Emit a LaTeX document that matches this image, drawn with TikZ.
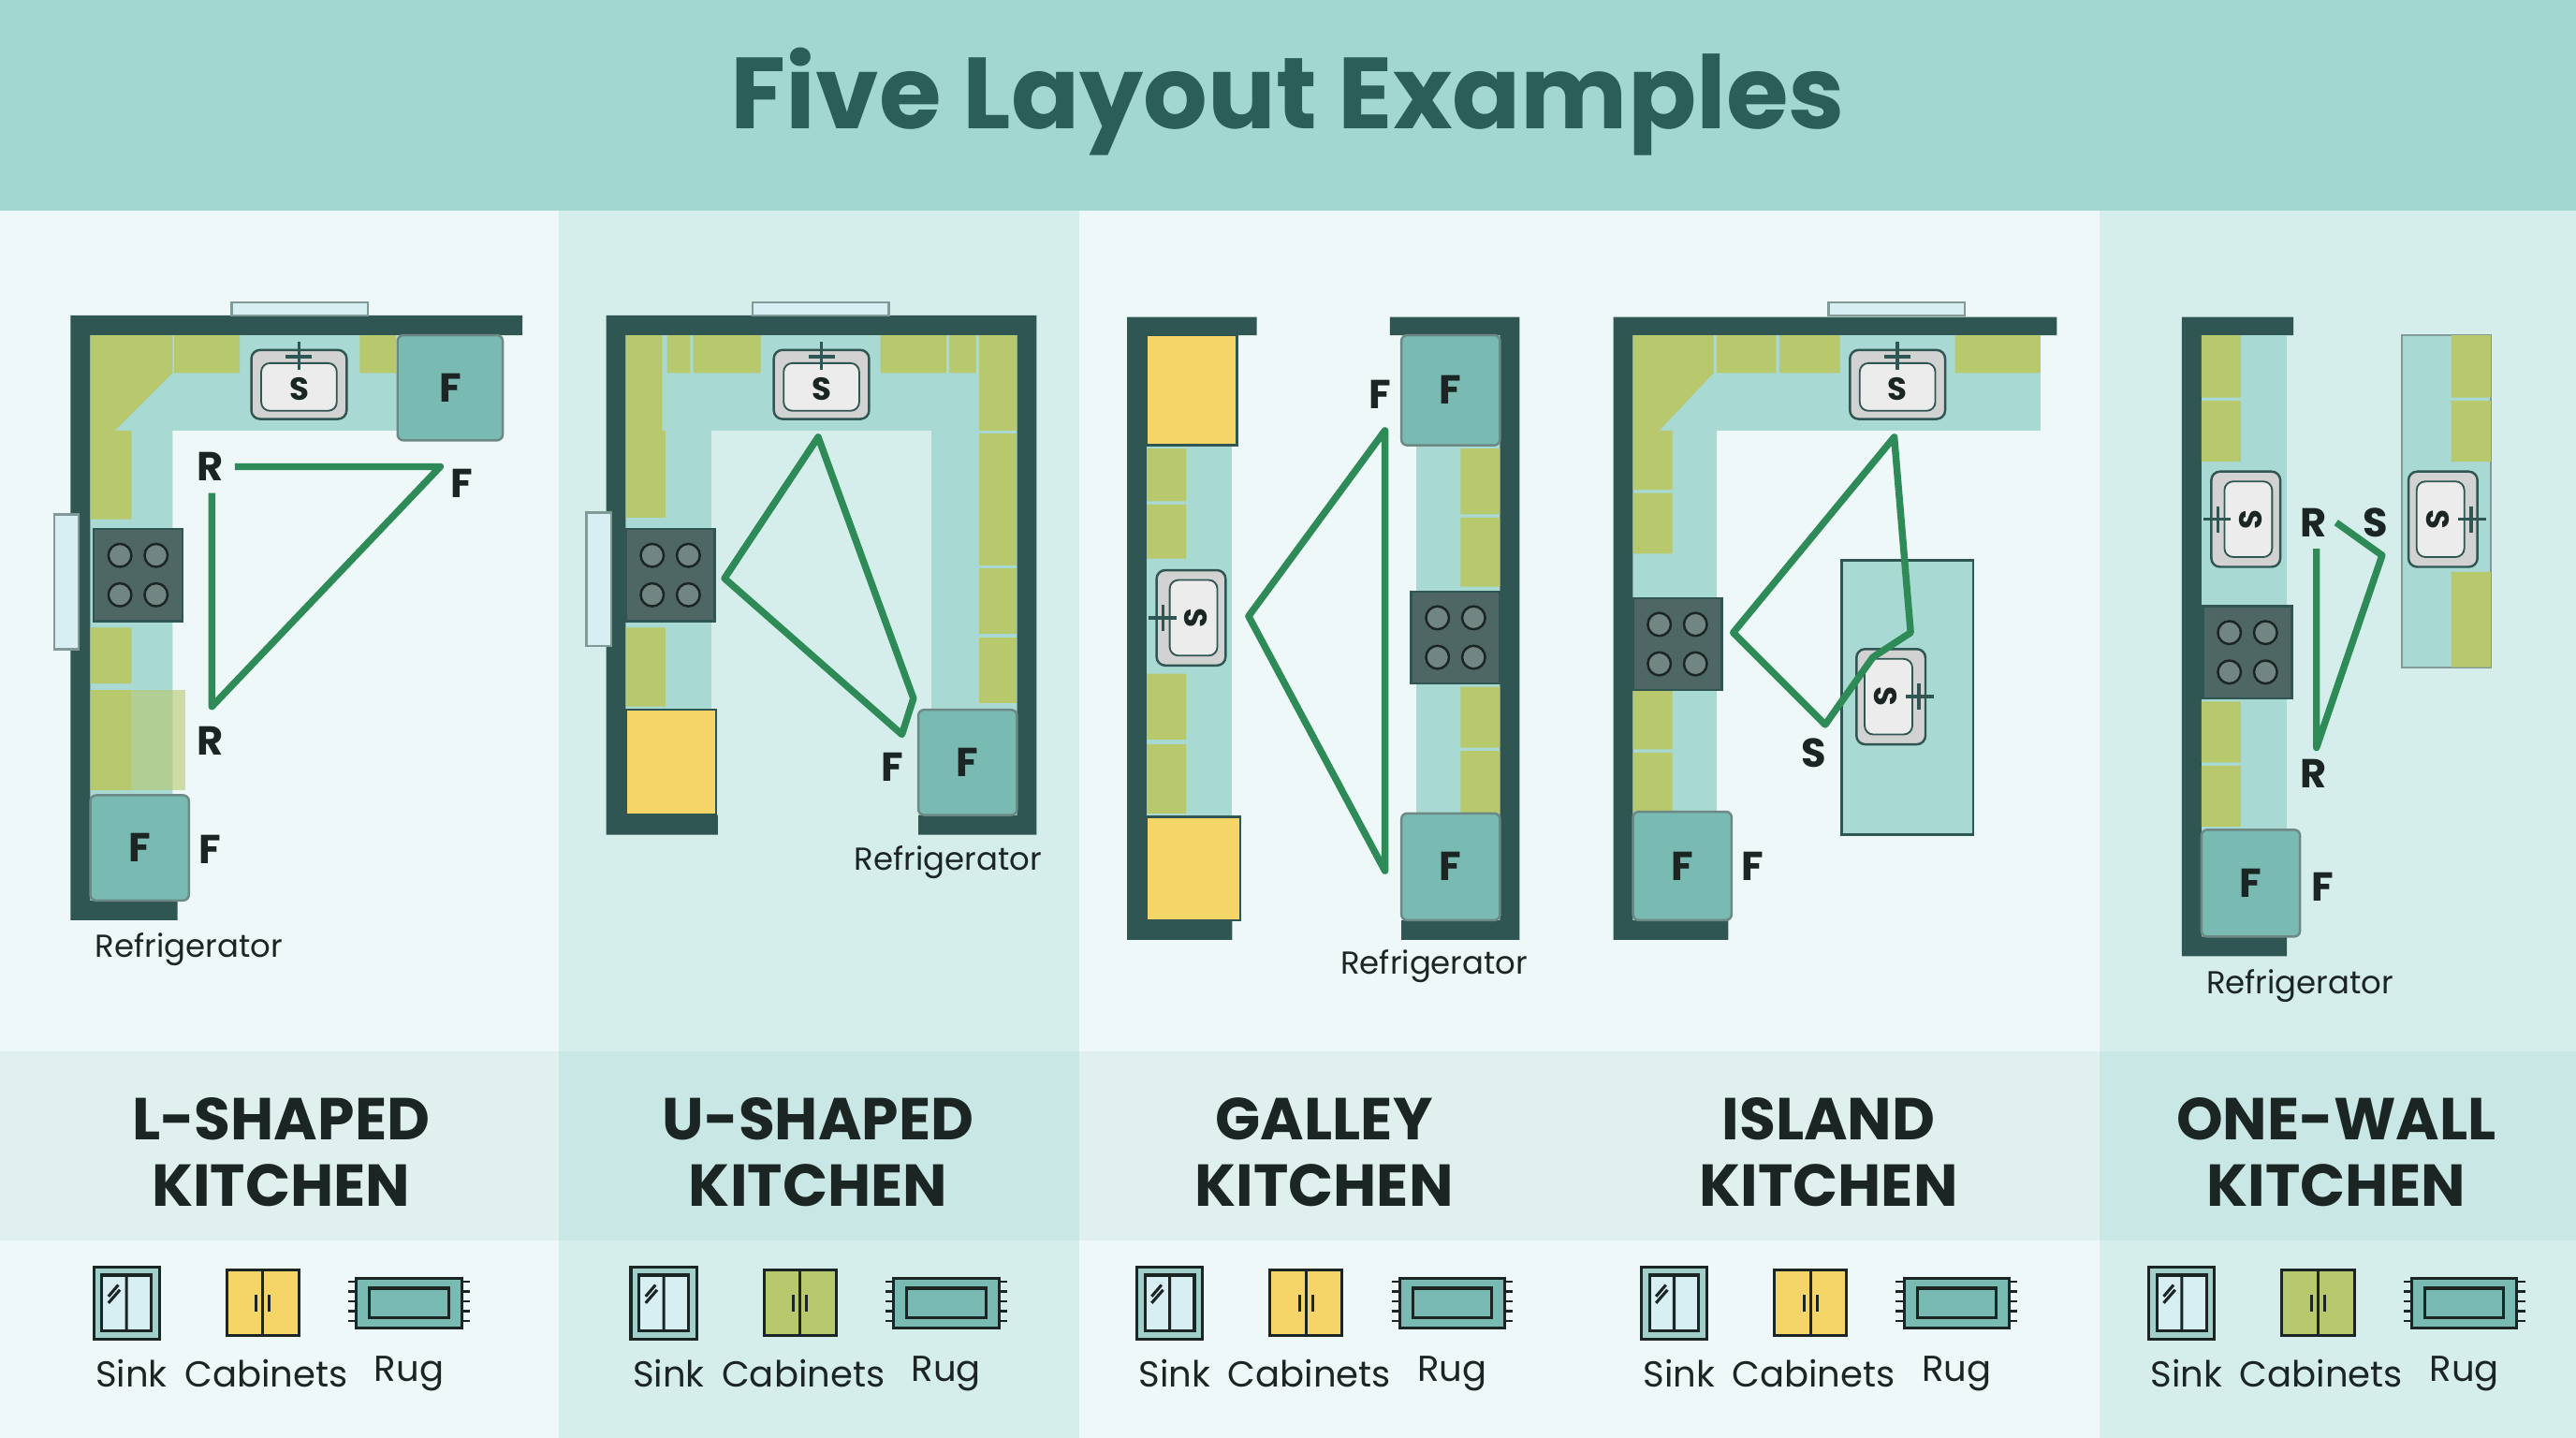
\documentclass[tikz,border=0pt]{standalone}
\usepackage{fontspec}
\setmainfont{Poppins}
\definecolor{wallc}{HTML}{2F5652}
\definecolor{ctr}{HTML}{A8D9D3}
\definecolor{cabg}{HTML}{B8C86C}
\definecolor{caby}{HTML}{F5D468}
\definecolor{fridgec}{HTML}{79BAB2}
\definecolor{stovec}{HTML}{4E6664}
\definecolor{trig}{HTML}{2E8B57}
\definecolor{head}{HTML}{A2D6D0}
\definecolor{titlec}{HTML}{2B5E59}
\definecolor{bgl}{HTML}{EEF8F8}
\definecolor{bgd}{HTML}{D5EEEB}
\definecolor{inkc}{HTML}{1B2624}
\definecolor{winc}{HTML}{D7EEF2}
\tikzset{
  wall/.style={fill=wallc},
  counter/.style={fill=ctr},
  cab/.style={fill=cabg},
  ycab/.style={fill=caby,draw=wallc,line width=0.8pt},
  fridge/.style={fill=fridgec,draw=wallc!70,line width=0.8pt,rounded corners=2pt},
  win/.style={fill=winc,draw=wallc!60,line width=0.8pt},
  tri/.style={draw=trig,line width=2.4pt,line join=round},
  lbl/.style={font=\bfseries\fontsize{14}{14}\selectfont,text=inkc},
  small/.style={font=\fontsize{11}{11}\selectfont,text=inkc},
  legend/.style={font=\fontsize{12.5}{12.5}\selectfont,text=inkc},
  heading/.style={font=\bfseries\fontsize{20.5}{23}\selectfont,text=inkc,align=center},
  sink/.pic={
    \draw[fill=gray!35,draw=wallc,line width=0.8pt,rounded corners=3pt] (-29,-21) rectangle (29,21);
    \draw[fill=gray!15,draw=wallc,line width=0.6pt,rounded corners=3pt] (-23,-13) rectangle (23,16);
    \draw[line width=1.2pt,draw=wallc] (0,-26) -- (0,-9) (-8,-17) -- (8,-17);
    \node[transform shape,font=\bfseries\fontsize{11}{11}\selectfont,text=inkc] at (0,3) {S};
  },
  stove/.pic={
    \draw[fill=stovec,draw=wallc,line width=0.8pt] (-27,-28) rectangle (27,28);
    \foreach \sx in {-11,11} \foreach \sy in {-12,12}
      \draw[fill=stovec!80,draw=inkc,line width=0.8pt] (\sx,\sy) circle (7);
  }
}
\begin{document}
\begin{tikzpicture}[x=0.02cm,y=-0.02cm]
% backgrounds
\fill[bgl] (0,0) rectangle (1568,875);
\fill[bgd] (340,128) rectangle (657,875);
\fill[bgd] (1278,128) rectangle (1568,875);
\fill[fridgec,opacity=0.12] (0,640) rectangle (1568,755);
\fill[head] (0,0) rectangle (1568,128);
\node[font=\bfseries\fontsize{35}{35}\selectfont,text=titlec] (title) at (784,62) {Five Layout Examples};
% ---------------- L-shaped
\fill[wall] (43,192) rectangle (318,204) (43,192) rectangle (55,560) (43,548) rectangle (108,560);
\fill[counter] (55,204) rectangle (242,262) (55,204) rectangle (105,548);
\fill[cab] (55,204) -- (105,204) -- (105,227) -- (70,262) -- (55,262) -- cycle;
\fill[cab] (106,204) rectangle (146,227) (219,204) rectangle (241,227) (55,262) rectangle (80,316)
  (55,382) rectangle (80,416) (55,420) rectangle (80,481);
\fill[cab,opacity=0.6] (80,420) rectangle (113,481);
\draw[win] (141,184) rectangle (224,192) (33,313) rectangle (48,395);
\pic at (182,234) {sink};
\pic at (84,350) {stove};
\draw[fridge] (242,204) rectangle (306,268) node[midway,lbl] {F};
\draw[fridge] (55,484) rectangle (115,548) node[midway,lbl] {F};
\node[lbl] (r1) at (128,284) {R};
\node[lbl] (f1) at (281,294) {F};
\node[lbl] (r2) at (128,451) {R};
\node[lbl] (f2) at (128,517) {F};
\node[small] (ref1) at (115,578) {Refrigerator};
\draw[tri] (143,284) -- (268,284) -- (129,430) -- (129,300);
% ---------------- U-shaped
\fill[wall] (369,192) rectangle (631,204) (369,192) rectangle (381,508) (619,192) rectangle (631,508)
  (369,496) rectangle (437,508) (559,496) rectangle (631,508);
\fill[counter] (381,204) rectangle (619,262) (381,204) rectangle (433,496) (567,204) rectangle (619,496);
\fill[cab] (381,204) rectangle (403,262) (406,204) rectangle (420,227) (422,204) rectangle (463,227)
  (536,204) rectangle (576,227) (578,204) rectangle (594,227) (596,204) rectangle (619,262)
  (381,262) rectangle (405,315) (381,382) rectangle (405,430);
\foreach \yy in {264,304,346,388}
  \fill[cab] (596,\yy) rectangle (619,\yy+40);
\draw[win] (458,184) rectangle (541,192) (357,312) rectangle (372,393);
\pic at (500,234) {sink};
\pic at (408,350) {stove};
\draw[ycab] (381,432) rectangle (436,496);
\draw[fridge] (559,432) rectangle (619,496) node[midway,lbl] {F};
\node[lbl] (f3) at (543,467) {F};
\node[small] (ref2) at (577,525) {Refrigerator};
\draw[tri] (498,266) -- (441,352) -- (549,447) -- (556,425) -- cycle;
% ---------------- Galley
\fill[wall] (686,193) rectangle (765,204) (686,193) rectangle (698,572) (686,560) rectangle (750,572);
\fill[counter] (698,204) rectangle (750,560);
\draw[ycab] (698,204) rectangle (753,271);
\fill[cab] (698,273) rectangle (722,305) (698,307) rectangle (722,340) (698,410) rectangle (722,450) (698,453) rectangle (722,495);
\draw[ycab] (698,497) rectangle (755,560);
\pic[rotate=90] at (725,376) {sink};
\fill[wall] (846,193) rectangle (925,204) (913,193) rectangle (925,572) (853,560) rectangle (925,572);
\fill[counter] (862,204) rectangle (913,560);
\fill[cab] (889,273) rectangle (913,313) (889,315) rectangle (913,357) (889,418) rectangle (913,455) (889,457) rectangle (913,495);
\pic at (886,388) {stove};
\draw[fridge] (853,204) rectangle (913,271) node[midway,lbl] {F};
\draw[fridge] (853,495) rectangle (913,560) node[midway,lbl] {F};
\node[lbl] (f4) at (840,240) {F};
\node[small] (ref3) at (873,588) {Refrigerator};
\draw[tri] (843,262) -- (760,375) -- (843,530) -- cycle;
% ---------------- Island
\fill[wall] (982,193) rectangle (1252,204) (982,193) rectangle (994,572) (982,560) rectangle (1052,572);
\fill[counter] (994,204) rectangle (1242,262) (994,204) rectangle (1045,560);
\fill[cab] (994,204) -- (1043,204) -- (1043,227) -- (1010,262) -- (994,262) -- cycle;
\fill[cab] (1045,204) rectangle (1081,227) (1083,204) rectangle (1120,227) (1190,204) rectangle (1242,227)
  (994,262) rectangle (1018,298) (994,300) rectangle (1018,337) (994,420) rectangle (1018,456) (994,458) rectangle (1018,494);
\draw[win] (1113,184) rectangle (1196,192);
\pic at (1155,234) {sink};
\pic at (1021,392) {stove};
\draw[fridge] (994,494) rectangle (1054,560) node[midway,lbl] {F};
\draw[counter,draw=wallc,line width=0.8pt] (1121,341) rectangle (1201,508);
\pic[rotate=-90] at (1151,424) {sink};
\node[lbl] (s1) at (1104,458) {S};
\node[lbl] (f5) at (1067,527) {F};
\draw[tri] (1055,385) -- (1153,266) -- (1163,385) -- (1140,400) -- (1111,441) -- cycle;
% ---------------- One-wall
\fill[wall] (1328,193) rectangle (1396,204) (1328,193) rectangle (1340,582) (1328,570) rectangle (1392,582);
\fill[counter] (1340,204) rectangle (1392,570);
\fill[cab] (1340,204) rectangle (1364,242) (1340,244) rectangle (1364,281) (1340,427) rectangle (1364,464) (1340,466) rectangle (1364,503);
\pic[rotate=90] at (1367,316) {sink};
\pic at (1368,397) {stove};
\draw[fridge] (1340,505) rectangle (1400,570) node[midway,lbl] {F};
\draw[counter,draw=wallc!60,line width=0.6pt] (1462,204) rectangle (1516,406);
\fill[cab] (1492,204) rectangle (1516,242) (1492,244) rectangle (1516,281) (1492,348) rectangle (1516,406);
\pic[rotate=-90] at (1487,316) {sink};
\node[lbl] (r3) at (1408,318) {R};
\node[lbl] (s2) at (1446,318) {S};
\node[lbl] (r4) at (1408,471) {R};
\node[lbl] (f6) at (1414,540) {F};
\node[small] (ref4) at (1400,600) {Refrigerator};
\draw[tri] (1422,318) -- (1450,338) -- (1410,455) -- (1410,334);
% ---------------- headings and legends
\foreach \cx/\name/\cc in {171/L-SHAPED/caby, 498/U-SHAPED/cabg, 806/GALLEY/caby, 1113/ISLAND/caby, 1422/ONE-WALL/cabg} {
  \node[heading] at (\cx,701) {\name\\KITCHEN};
  % sink icon
  \draw[fill=fridgec!70,draw=inkc,line width=1pt] (\cx-114,771) rectangle (\cx-74,815);
  \draw[fill=winc,draw=inkc,line width=1pt] (\cx-109,776) rectangle (\cx-79,810);
  \draw[draw=inkc,line width=1pt] (\cx-94,776) -- (\cx-94,810) (\cx-105,789) -- (\cx-99,782) (\cx-105,793) -- (\cx-98,785);
  \node[legend] at (\cx-91,836) {Sink};
  % cabinet icon
  \draw[fill=\cc,draw=inkc,line width=1pt] (\cx-33,773) rectangle (\cx+11,813);
  \draw[draw=inkc,line width=1pt] (\cx-11,773) -- (\cx-11,813) (\cx-15,788) -- (\cx-15,798) (\cx-7,788) -- (\cx-7,798);
  \node[legend] at (\cx-9,836) {Cabinets};
  % rug icon
  \draw[fill=fridgec,draw=inkc,line width=1pt] (\cx+46,778) rectangle (\cx+110,808);
  \draw[draw=inkc,line width=1pt] (\cx+54,784) rectangle (\cx+102,802);
  \foreach \ty in {780,786,...,806}
    \draw[draw=inkc,line width=0.8pt] (\cx+41,\ty) -- (\cx+46,\ty) (\cx+110,\ty) -- (\cx+115,\ty);
  \node[legend] at (\cx+78,836) {Rug};
}
\end{tikzpicture}
\end{document}
